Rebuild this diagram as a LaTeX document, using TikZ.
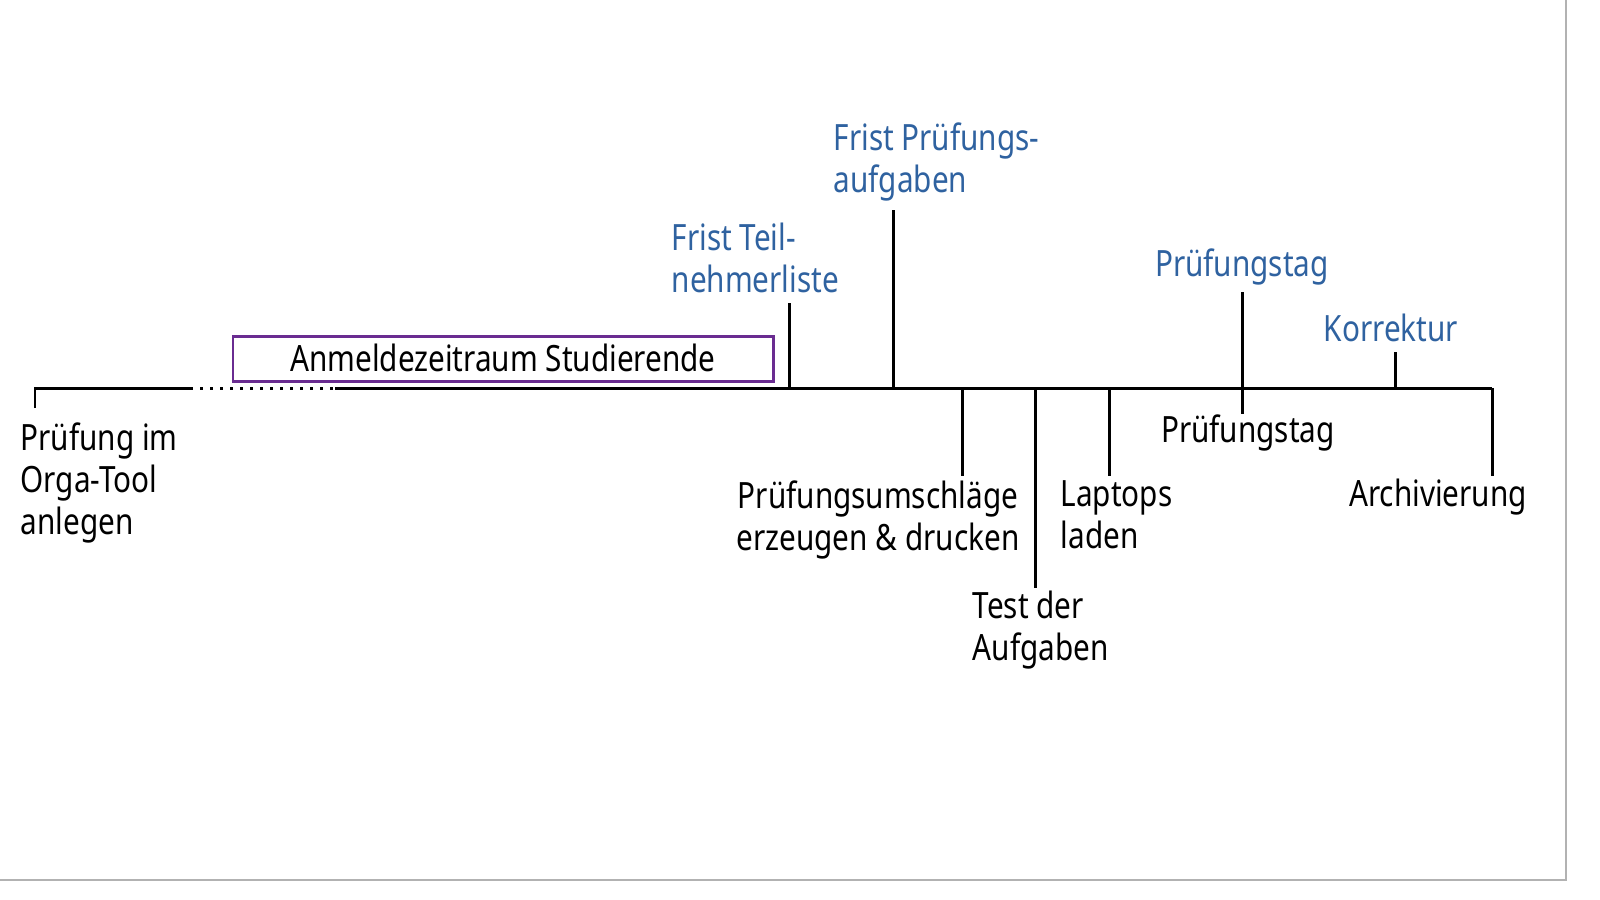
\documentclass[tikz,border=0pt]{standalone}
\usepackage{fontspec}
\setmainfont{Noto Sans}[FakeStretch=0.82]
\begin{document}
\definecolor{fblue}{HTML}{2F62A0}
\definecolor{fpurple}{HTML}{6A2C91}
\begin{tikzpicture}[x=0.01cm,y=-0.01cm,
  ln/.style={line width=0.85pt,black},
  lbl/.style={inner sep=0pt,align=left,font=\fontsize{10.3}{12}\selectfont,text depth=0pt},
  blbl/.style={lbl,text=fblue}]
\useasboundingbox (0,0) rectangle (1600,899);
\draw[gray!60,line width=0.6pt] (1566,0) -- (1566,880) -- (0,880);
\coordinate (a0) at (35,388); \coordinate (a1) at (190,388);
\coordinate (a2) at (335,388); \coordinate (a3) at (1492,388);
\draw[ln] (35,408) -- (a0) -- (a1);
\draw[ln,dotted] (a1) -- (a2);
\draw[ln] (a2) -- (a3);
\node[lbl,anchor=north west] (t1) at (20,422) {Prüfung im\\Orga-Tool\\anlegen};
\draw[fpurple,line width=0.85pt] (233,336) rectangle (773,381);
\node[lbl] (boxt) at (503,358) {Anmeldezeitraum Studierende};
% up ticks
\draw[ln] (789,303) -- (789,388);
\node[blbl,anchor=north west] (f1) at (671,222) {Frist Teil-\\nehmerliste};
\draw[ln] (893,210) -- (893,388);
\node[blbl,anchor=north west] (f2) at (833,122) {Frist Prüfungs-\\aufgaben};
\draw[ln] (1242,292) -- (1242,414);
\node[blbl,anchor=north] (p1) at (1242,248) {Prüfungstag};
\node[lbl,anchor=north] (p2) at (1248,414) {Prüfungstag};
\draw[ln] (1395,352) -- (1395,388);
\node[blbl,anchor=north] (k) at (1391,313) {Korrektur};
% down ticks
\draw[ln] (962,388) -- (962,476);
\node[lbl,anchor=north,align=center] (d1) at (878,480) {Prüfungsumschläge\\erzeugen \& drucken};
\draw[ln] (1035,388) -- (1035,588);
\node[lbl,anchor=north west] (d2) at (972,590) {Test der\\Aufgaben};
\draw[ln] (1109,388) -- (1109,476);
\node[lbl,anchor=north west] (d3) at (1060,480) {Laptops\\laden};
\draw[ln] (1492,388) -- (1492,476);
\node[lbl,anchor=north] (d4) at (1438,478) {Archivierung};
\end{tikzpicture}
\end{document}
